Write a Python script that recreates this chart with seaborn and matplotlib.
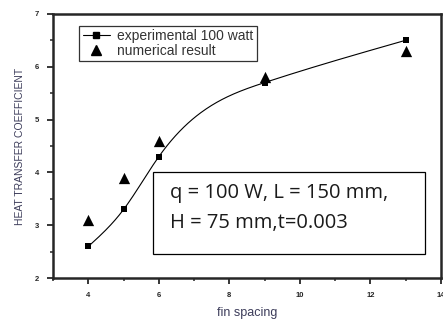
import numpy as np
import pandas as pd
import seaborn as sns
import matplotlib
matplotlib.use("Agg")
import matplotlib.pyplot as plt
from matplotlib.ticker import MultipleLocator
from matplotlib.lines import Line2D
from matplotlib.patches import Rectangle

fin_spacing = [4, 5, 6, 9, 13]
experimental = [2.6, 3.3, 4.3, 5.7, 6.5]
numerical = [3.1, 3.9, 4.6, 5.8, 6.3]

sns.set_theme(style="ticks")
plt.rcParams['font.family'] = ['Liberation Sans', 'DejaVu Sans']

def natural_spline(x, y, xs):
    x = np.asarray(x, float); y = np.asarray(y, float)
    n = len(x); h = np.diff(x)
    A = np.zeros((n, n)); b = np.zeros(n)
    A[0, 0] = 1; A[-1, -1] = 1
    for i in range(1, n - 1):
        A[i, i-1] = h[i-1]; A[i, i] = 2*(h[i-1] + h[i]); A[i, i+1] = h[i]
        b[i] = 3*((y[i+1]-y[i])/h[i] - (y[i]-y[i-1])/h[i-1])
    c = np.linalg.solve(A, b)
    out = np.empty_like(xs)
    for j, xv in enumerate(xs):
        k = int(np.clip(np.searchsorted(x, xv) - 1, 0, n - 2))
        bk = (y[k+1]-y[k])/h[k] - h[k]*(2*c[k] + c[k+1])/3
        dk = (c[k+1] - c[k])/(3*h[k])
        t = xv - x[k]
        out[j] = y[k] + bk*t + c[k]*t**2 + dk*t**3
    return out

xs = np.linspace(fin_spacing[0], fin_spacing[-1], 300)
curve = pd.DataFrame({"x": xs, "y": natural_spline(fin_spacing, experimental, xs)})
df = pd.DataFrame({"fin": fin_spacing, "exp": experimental, "num": numerical})

fig = plt.figure(figsize=(4.43, 3.23), dpi=100)
ax = fig.add_axes([0.12, 0.139, 0.875, 0.818])

sns.lineplot(data=curve, x="x", y="y", ax=ax, color="black", lw=0.8)
sns.scatterplot(data=df, x="fin", y="exp", ax=ax, marker="s", s=24, color="black",
                edgecolor="black", linewidth=0, zorder=3)
sns.scatterplot(data=df, x="fin", y="num", ax=ax, marker="^", s=66, color="black",
                edgecolor="black", linewidth=0, zorder=3)

ax.set_xlim(3, 14)
ax.set_ylim(2, 7)
ax.xaxis.set_minor_locator(MultipleLocator(1))
ax.yaxis.set_minor_locator(MultipleLocator(0.5))
ax.set_xticks([4, 6, 8, 10, 12, 14])
ax.set_xticklabels(["4", "6", "8", "10", "12", "14"], fontweight="bold", fontsize=5.5)
ax.set_yticks([2, 3, 4, 5, 6, 7])
ax.set_yticklabels(["2", "3", "4", "5", "6", "7"], fontweight="bold", fontsize=5.5)
ax.tick_params(which="major", length=4, width=1.3, pad=6)
ax.tick_params(which="minor", length=2.5, width=1.1)
for s in ax.spines.values():
    s.set_linewidth(1.8)
lab_color = "#3c3c5a"
ax.set_xlabel("fin spacing", fontsize=9, labelpad=6, color=lab_color)
ax.set_ylabel("HEAT TRANSFER COEFFICIENT", fontsize=7.5, labelpad=7, color=lab_color)

handles = [Line2D([0], [0], color="black", lw=0.8, marker="s", markersize=4.5),
           Line2D([0], [0], color="black", lw=0, marker="^", markersize=6.5)]
leg = ax.legend(handles, ["experimental 100 watt", "numerical result"],
                loc="upper left", bbox_to_anchor=(0.067, 0.955), borderaxespad=0,
                fontsize=10, frameon=True, fancybox=False, edgecolor="black",
                handlelength=2, borderpad=0.25, labelspacing=0.05, handletextpad=0.5)
leg.get_frame().set_linewidth(0.9)
for t in leg.get_texts():
    t.set_color("#333333")

ax.add_patch(Rectangle((0.258, 0.091), 0.701, 0.311, transform=ax.transAxes,
                       fc="white", ec="black", lw=0.9, zorder=4))
txt_kw = dict(transform=ax.transAxes, fontsize=14.5, family=["Open Sans", "DejaVu Sans"],
              va="center", ha="left", zorder=5, color="#1a1a1a")
ax.text(0.302, 0.322, "q = 100 W, L = 150 mm,", **txt_kw)
ax.text(0.302, 0.208, "H = 75 mm,t=0.003", **txt_kw)

fig.savefig("out.png", dpi=100)
